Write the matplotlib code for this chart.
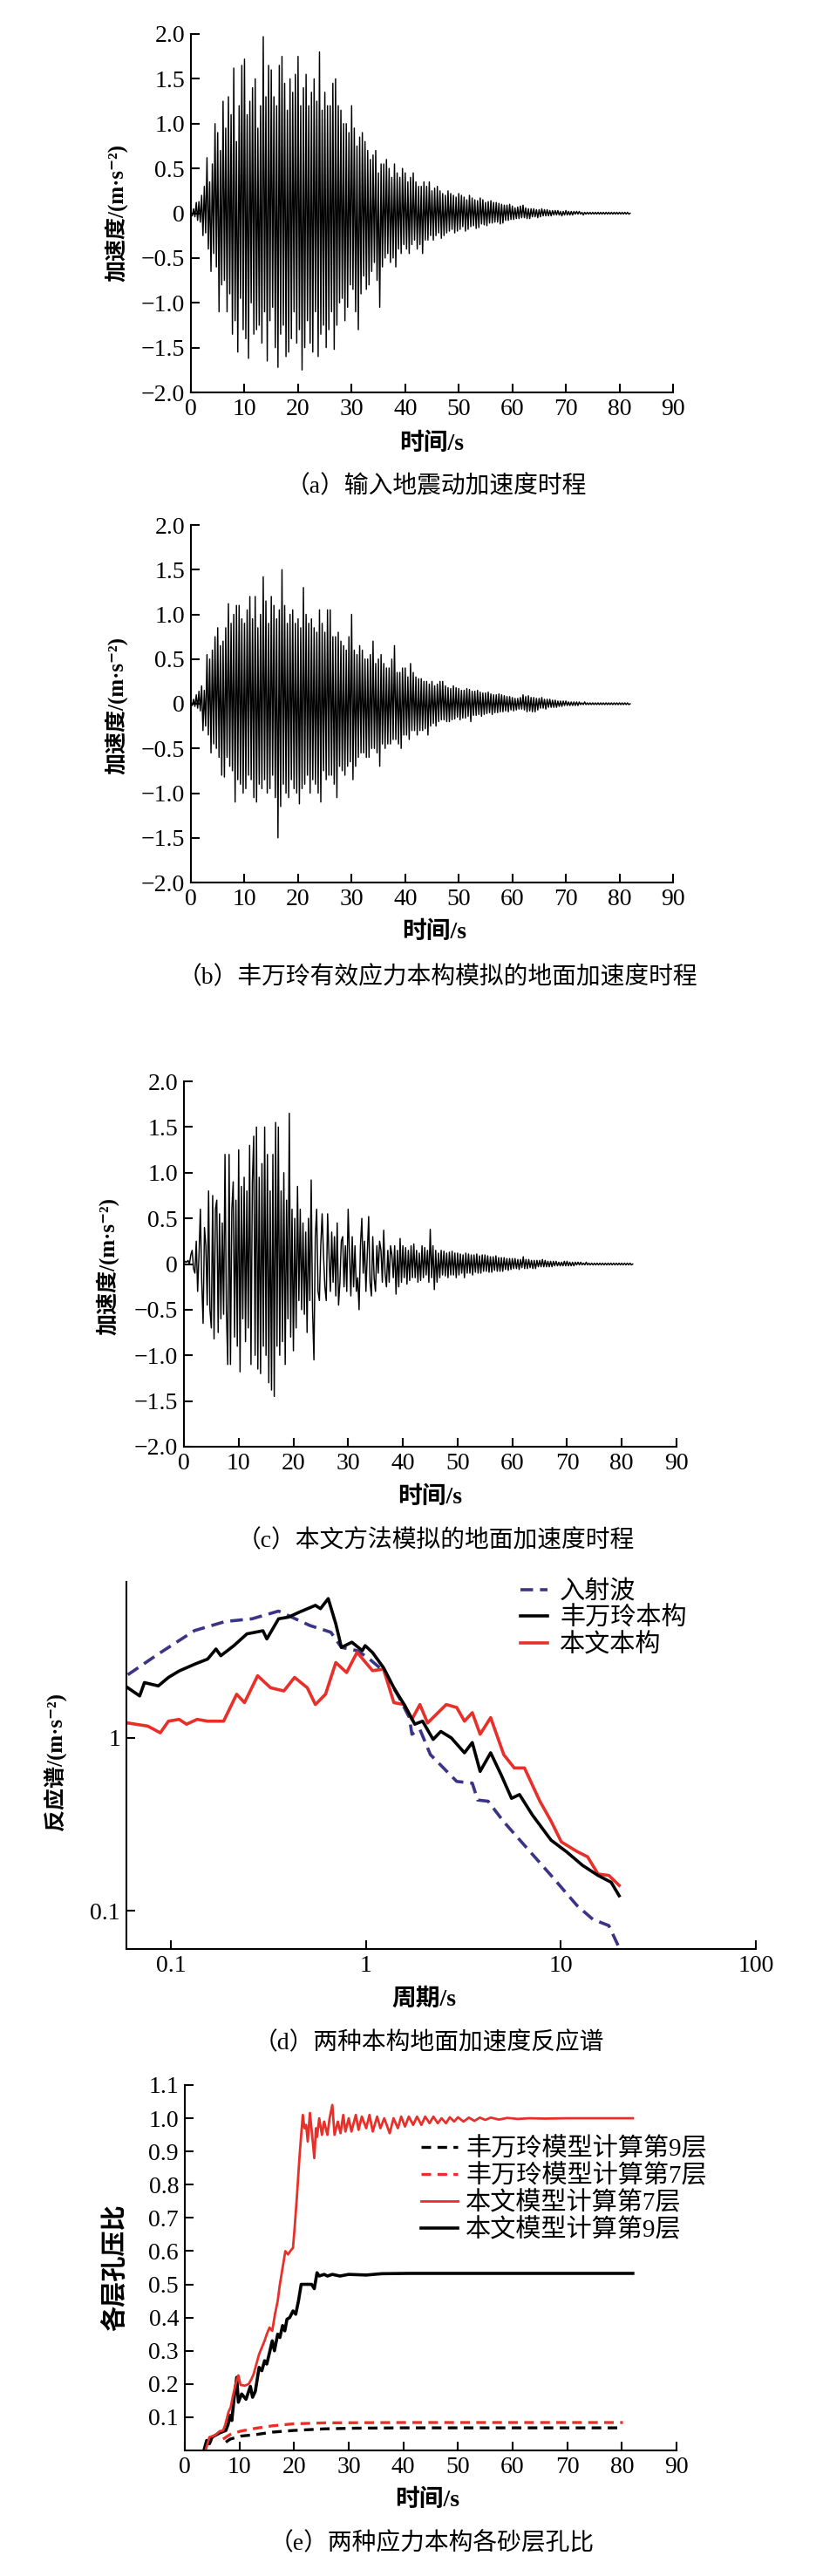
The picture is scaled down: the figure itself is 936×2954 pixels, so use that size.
import numpy as np
import matplotlib
matplotlib.use('Agg')
import matplotlib.pyplot as plt

plt.rcParams['font.family'] = ['Liberation Serif', 'Noto Sans CJK SC', 'DejaVu Serif']
plt.rcParams['axes.unicode_minus'] = True

# ---------------- data ----------------
DT = 0.25  # sampling step of the digitised records (s)

acc_input = [
    0.00, -0.03, 0.05, -0.04,
    0.12, -0.08, 0.13, -0.10,
    0.20, -0.25, 0.30, -0.22,
    0.62, -0.40, 0.35, -0.65,
    0.55, -0.45, 1.00, -0.60,
    0.90, -1.10, 0.70, -0.80,
    1.25, -0.75, 0.95, -1.10,
    1.30, -0.90, 1.10, -1.35,
    1.62, -1.20, 0.80, -1.55,
    1.20, -0.95, 1.65, -1.30,
    1.72, -1.40, 1.10, -1.62,
    1.25, -1.00, 1.40, -1.35,
    1.50, -1.30, 0.95, -1.25,
    1.20, -1.45, 1.97, -1.10,
    1.30, -1.65, 1.65, -1.20,
    1.60, -1.05, 1.30, -1.50,
    1.20, -1.72, 1.65, -1.35,
    1.75, -1.25, 1.45, -1.60,
    1.15, -1.55, 1.50, -1.40,
    1.35, -1.10, 1.55, -1.45,
    1.75, -1.30, 1.20, -1.75,
    1.40, -1.50, 1.55, -1.20,
    1.20, -1.45, 1.35, -1.55,
    1.50, -1.10, 1.25, -1.60,
    1.80, -1.35, 1.15, -1.25,
    1.35, -1.50, 1.20, -1.30,
    1.20, -1.10, 1.45, -1.52,
    1.50, -1.25, 1.20, -1.00,
    1.15, -0.95, 1.00, -1.20,
    1.00, -1.05, 0.90, -0.80,
    1.20, -0.85, 0.95, -1.10,
    0.75, -1.30, 0.85, -0.90,
    0.90, -0.70, 0.80, -0.85,
    0.70, -0.80, 0.60, -0.65,
    0.65, -0.55, 0.70, -0.75,
    0.45, -1.05, 0.55, -0.60,
    0.55, -0.50, 0.60, -0.45,
    0.50, -0.55, 0.40, -0.50,
    0.55, -0.60, 0.45, -0.40,
    0.40, -0.45, 0.50, -0.35,
    0.45, -0.40, 0.35, -0.45,
    0.40, -0.35, 0.45, -0.30,
    0.35, -0.40, 0.30, -0.35,
    0.30, -0.45, 0.35, -0.30,
    0.30, -0.30, 0.35, -0.25,
    0.25, -0.30, 0.28, -0.25,
    0.30, -0.22, 0.25, -0.28,
    0.22, -0.25, 0.20, -0.22,
    0.25, -0.20, 0.22, -0.18,
    0.20, -0.22, 0.18, -0.20,
    0.22, -0.18, 0.20, -0.15,
    0.18, -0.20, 0.15, -0.18,
    0.20, -0.15, 0.17, -0.14,
    0.15, -0.17, 0.14, -0.16,
    0.17, -0.12, 0.15, -0.13,
    0.12, -0.14, 0.13, -0.11,
    0.14, -0.11, 0.12, -0.10,
    0.12, -0.10, 0.11, -0.12,
    0.10, -0.11, 0.09, -0.08,
    0.09, -0.08, 0.10, -0.07,
    0.08, -0.07, 0.06, -0.06,
    0.07, -0.06, 0.08, -0.05,
    0.09, -0.05, 0.06, -0.06,
    0.05, -0.06, 0.05, -0.04,
    0.05, -0.04, 0.04, -0.05,
    0.04, -0.04, 0.05, -0.03,
    0.04, -0.03, 0.04, -0.03,
    0.03, -0.03, 0.03, -0.02,
    0.03, -0.02, 0.03, -0.02,
    0.02, -0.03, 0.02, -0.02,
    0.03, -0.02, 0.02, -0.02,
    0.02, -0.02, 0.02, -0.01,
    0.02, -0.01, 0.02, -0.01,
    0.01, -0.02, 0.01, -0.01,
    0.01, -0.01, 0.01, -0.01,
    0.01, -0.01, 0.01, -0.01,
    0.01, -0.01, 0.01, -0.01,
    0.01, -0.01, 0.01, -0.01,
    0.01, -0.01, 0.01, -0.01,
    0.01, -0.01, 0.01, -0.01,
    0.01, -0.01, 0.01, -0.01,
    0.01, -0.01, 0.01, -0.01,
    0.00,
]

acc_feng = [
    0.00, -0.02, 0.05, -0.03,
    0.10, -0.05, 0.14, -0.08,
    0.20, -0.30, 0.15, -0.25,
    0.55, -0.35, 0.50, -0.55,
    0.60, -0.45, 0.75, -0.50,
    0.85, -0.60, 0.65, -0.80,
    0.70, -0.82, 0.85, -0.60,
    1.12, -0.70, 0.90, -0.75,
    1.00, -1.10, 1.10, -0.85,
    1.10, -0.90, 0.95, -1.00,
    0.90, -0.95, 1.05, -0.80,
    1.20, -0.85, 0.95, -1.05,
    1.20, -1.10, 0.85, -0.90,
    1.00, -0.95, 1.42, -0.85,
    1.15, -1.00, 0.90, -0.95,
    1.20, -0.80, 1.10, -1.05,
    0.95, -1.50, 1.05, -1.15,
    1.50, -0.90, 1.10, -1.00,
    0.90, -1.05, 1.00, -0.85,
    1.05, -0.95, 0.90, -1.00,
    0.95, -1.12, 0.85, -0.95,
    1.30, -0.90, 1.00, -0.80,
    0.90, -1.00, 0.95, -0.85,
    0.85, -0.90, 0.80, -1.00,
    1.05, -1.10, 0.90, -0.75,
    0.80, -0.85, 1.05, -0.80,
    1.05, -0.80, 0.75, -0.90,
    0.75, -1.05, 0.80, -0.70,
    0.70, -0.75, 0.65, -0.80,
    0.60, -0.70, 0.75, -0.65,
    1.00, -0.85, 0.60, -0.70,
    0.55, -0.60, 0.65, -0.55,
    0.60, -0.55, 0.50, -0.60,
    0.50, -0.60, 0.55, -0.50,
    0.70, -0.50, 0.45, -0.55,
    0.50, -0.70, 0.55, -0.45,
    0.45, -0.50, 0.40, -0.45,
    0.40, -0.45, 0.50, -0.40,
    0.65, -0.40, 0.35, -0.45,
    0.35, -0.50, 0.40, -0.35,
    0.40, -0.35, 0.30, -0.40,
    0.45, -0.30, 0.35, -0.30,
    0.30, -0.35, 0.28, -0.30,
    0.28, -0.30, 0.25, -0.28,
    0.25, -0.35, 0.22, -0.25,
    0.25, -0.22, 0.20, -0.25,
    0.22, -0.20, 0.25, -0.18,
    0.25, -0.18, 0.20, -0.20,
    0.18, -0.20, 0.17, -0.18,
    0.20, -0.17, 0.18, -0.15,
    0.17, -0.18, 0.15, -0.16,
    0.15, -0.16, 0.17, -0.14,
    0.16, -0.20, 0.14, -0.13,
    0.14, -0.13, 0.15, -0.12,
    0.13, -0.14, 0.12, -0.12,
    0.12, -0.11, 0.13, -0.10,
    0.11, -0.12, 0.10, -0.10,
    0.10, -0.10, 0.11, -0.09,
    0.10, -0.09, 0.09, -0.08,
    0.08, -0.09, 0.08, -0.07,
    0.07, -0.08, 0.06, -0.07,
    0.06, -0.06, 0.07, -0.06,
    0.10, -0.07, 0.08, -0.09,
    0.09, -0.08, 0.07, -0.09,
    0.07, -0.09, 0.06, -0.07,
    0.06, -0.05, 0.07, -0.05,
    0.05, -0.06, 0.05, -0.04,
    0.05, -0.04, 0.04, -0.04,
    0.04, -0.04, 0.03, -0.03,
    0.03, -0.03, 0.03, -0.02,
    0.03, -0.02, 0.02, -0.02,
    0.02, -0.02, 0.02, -0.02,
    0.02, -0.02, 0.02, -0.01,
    0.01, -0.01, 0.02, -0.01,
    0.01, -0.01, 0.01, -0.01,
    0.01, -0.01, 0.01, -0.01,
    0.01, -0.01, 0.01, -0.01,
    0.01, -0.01, 0.01, -0.01,
    0.01, -0.01, 0.01, -0.01,
    0.01, -0.01, 0.01, -0.01,
    0.01, -0.01, 0.01, -0.01,
    0.01, -0.01, 0.01, -0.01,
    0.00,
]

acc_ours = [
    0.00, 0.03, 0.02, 0.04,
    0.00, 0.10, 0.15, -0.05,
    -0.10, 0.25, -0.30, 0.10,
    0.60, -0.20, -0.65, 0.40,
    0.20, -0.45, 0.80, -0.50,
    -0.70, 0.75, -0.82, 0.60,
    0.70, -0.75, 0.55, -0.60,
    0.45, -0.55, 1.20, -0.50,
    -1.10, 1.20, -1.10, 0.60,
    0.90, -0.80, 0.70, -0.90,
    1.25, -1.18, 0.85, -0.60,
    0.95, -0.85, 0.80, -0.70,
    1.30, -1.10, 0.90, 1.40,
    -1.00, 1.50, -1.15, 0.95,
    -1.20, 1.10, -0.90, 1.50,
    -1.00, 1.20, -1.30, 0.80,
    -1.38, 1.20, -1.45, 1.55,
    -0.90, 1.50, -1.00, 0.80,
    -0.85, 1.00, -1.10, 0.70,
    -0.60, 1.65, -0.80, 0.60,
    -0.95, 0.50, -0.70, 0.85,
    -0.40, 0.60, -0.50, 0.45,
    -0.55, 0.35, -0.75, 0.50,
    -0.40, 0.92, -0.50, -1.05,
    0.30, 0.60, -0.30, -0.40,
    0.20, 0.55, 0.10, -0.25,
    -0.40, 0.55, 0.10, -0.30,
    0.35, -0.20, 0.30, -0.35,
    0.45, -0.45, -0.20, 0.25,
    0.30, -0.25, 0.20, -0.30,
    0.60, 0.10, -0.35, 0.30,
    -0.25, 0.20, -0.30, -0.15,
    -0.50, 0.20, 0.50, -0.10,
    0.25, -0.30, 0.10, 0.52,
    -0.20, -0.35, 0.30, -0.15,
    -0.30, 0.20, -0.10, 0.25,
    0.15, -0.20, 0.37, -0.10,
    -0.25, 0.15, -0.20, 0.20,
    0.10, -0.15, 0.20, -0.33,
    0.15, -0.25, 0.28, -0.20,
    0.20, -0.15, 0.18, -0.22,
    0.15, -0.18, 0.20, -0.15,
    0.22, -0.15, 0.15, -0.20,
    0.12, -0.18, 0.20, -0.15,
    0.18, -0.12, 0.15, -0.20,
    0.38, -0.15, 0.20, -0.28,
    0.15, -0.20, 0.12, -0.15,
    0.15, -0.12, 0.14, -0.13,
    0.12, -0.15, 0.13, -0.12,
    0.14, -0.12, 0.12, -0.15,
    0.12, -0.12, 0.11, -0.10,
    0.10, -0.15, 0.12, -0.10,
    0.11, -0.10, 0.10, -0.12,
    0.10, -0.09, 0.11, -0.10,
    0.09, -0.10, 0.10, -0.08,
    0.10, -0.08, 0.09, -0.09,
    0.08, -0.09, 0.08, -0.07,
    0.09, -0.08, 0.07, -0.08,
    0.07, -0.08, 0.07, -0.06,
    0.06, -0.07, 0.06, -0.06,
    0.06, -0.05, 0.06, -0.05,
    0.05, -0.06, 0.05, -0.04,
    0.08, -0.05, 0.05, -0.05,
    0.05, -0.04, 0.04, -0.05,
    0.04, -0.05, 0.04, -0.03,
    0.04, -0.03, 0.05, -0.03,
    0.04, -0.03, 0.03, -0.03,
    0.03, -0.03, 0.03, -0.02,
    0.03, -0.02, 0.02, -0.02,
    0.02, -0.02, 0.03, -0.02,
    0.03, -0.02, 0.02, -0.02,
    0.02, -0.02, 0.02, -0.01,
    0.02, -0.01, 0.02, -0.01,
    0.01, -0.01, 0.02, -0.01,
    0.01, -0.01, 0.01, -0.01,
    0.01, -0.01, 0.01, -0.01,
    0.01, -0.01, 0.01, -0.01,
    0.01, -0.01, 0.01, -0.01,
    0.01, -0.01, 0.01, -0.01,
    0.01, -0.01, 0.01, -0.01,
    0.01, -0.01, 0.01, -0.01,
    0.01, -0.01, 0.01, -0.01,
    0.00,
]

# response spectra (period s, Sa m/s^2)
spec_incident = [(0.06, 2.32), (0.086, 3.06), (0.132, 4.18), (0.19, 4.72), (0.26, 4.89),
                 (0.356, 5.42), (0.516, 4.47), (0.66, 4.09), (0.748, 3.34), (0.90, 3.20),
                 (1.02, 2.92), (1.23, 2.44), (1.48, 1.71), (1.67, 1.31), (1.72, 1.05),
                 (1.89, 1.12), (2.14, 0.80), (2.92, 0.56), (3.51, 0.547), (3.74, 0.437),
                 (4.23, 0.43), (5.09, 0.327), (6.5, 0.239), (8.9, 0.16), (12.1, 0.107),
                 (14.6, 0.089), (17.6, 0.082), (19.9, 0.061)]
spec_feng = [(0.06, 1.95), (0.069, 1.75), (0.073, 2.09), (0.086, 2.00), (0.097, 2.24),
             (0.11, 2.44), (0.132, 2.67), (0.154, 2.86), (0.17, 3.27), (0.18, 2.99),
             (0.21, 3.42), (0.245, 4.00), (0.296, 4.17), (0.31, 3.74), (0.356, 4.89),
             (0.40, 5.00), (0.456, 5.35), (0.55, 5.85), (0.584, 5.60), (0.64, 6.40),
             (0.70, 4.57), (0.748, 3.34), (0.846, 3.58), (0.957, 3.20), (0.99, 3.42),
             (1.08, 3.12), (1.23, 2.55), (1.39, 1.95), (1.57, 1.56), (1.78, 1.20),
             (1.95, 1.25), (2.21, 0.98), (2.42, 1.09), (2.74, 1.00), (3.2, 0.82),
             (3.51, 0.94), (3.85, 0.64), (4.36, 0.82), (4.94, 0.61), (5.58, 0.447),
             (6.13, 0.47), (7.15, 0.357), (8.9, 0.256), (10.7, 0.219), (12.9, 0.183),
             (15.5, 0.16), (18.1, 0.146), (19.9, 0.122)]
spec_ours = [(0.06, 1.22), (0.076, 1.17), (0.088, 1.07), (0.097, 1.25), (0.11, 1.28),
             (0.12, 1.20), (0.136, 1.28), (0.154, 1.25), (0.186, 1.25), (0.217, 1.79),
             (0.238, 1.60), (0.278, 2.29), (0.324, 1.95), (0.379, 1.87), (0.43, 2.24),
             (0.50, 1.95), (0.55, 1.56), (0.62, 1.79), (0.70, 2.73), (0.795, 2.39),
             (0.90, 3.13), (1.08, 2.45), (1.23, 2.50), (1.39, 1.60), (1.57, 1.56),
             (1.72, 1.28), (1.89, 1.56), (2.07, 1.22), (2.58, 1.56), (2.92, 1.50),
             (3.2, 1.25), (3.51, 1.40), (3.85, 1.05), (4.36, 1.31), (5.09, 0.80),
             (5.76, 0.67), (6.5, 0.67), (7.8, 0.43), (8.9, 0.33), (10.05, 0.25),
             (12.1, 0.22), (13.7, 0.205), (15.5, 0.163), (17.6, 0.16), (19.9, 0.14)]

# pore pressure ratio (time s, ratio)
ppr_feng_l9 = [(7.5, 0.025), (8.3, 0.034), (10.2, 0.043), (13.1, 0.048), (16.0, 0.055),
               (19.8, 0.060), (25.6, 0.065), (31.3, 0.067), (40.0, 0.068), (80.2, 0.068)]
ppr_feng_l7 = [(7.0, 0.034), (8.3, 0.048), (10.2, 0.058), (13.1, 0.067), (16.0, 0.074),
               (19.8, 0.080), (25.6, 0.083), (40.0, 0.084), (80.2, 0.084)]
ppr_ours_l7 = [(3.8, 0.00), (4.5, 0.04), (5.5, 0.045), (6.4, 0.058), (7.0, 0.06), (7.4, 0.077),
               (8.0, 0.116), (8.4, 0.13), (8.8, 0.164), (9.3, 0.20), (9.8, 0.226), (10.2, 0.197),
               (11.0, 0.195), (11.7, 0.20), (12.2, 0.215), (12.6, 0.23), (13.1, 0.26), (13.6, 0.29),
               (14.1, 0.31), (14.6, 0.33), (15.0, 0.35), (15.5, 0.37), (16.0, 0.36), (16.5, 0.41),
               (17.0, 0.45), (17.4, 0.50), (17.9, 0.55), (18.4, 0.60), (18.9, 0.59), (19.3, 0.60),
               (19.8, 0.61), (20.1, 0.67), (20.5, 0.76), (21.0, 0.886), (21.3, 0.95), (21.6, 1.01),
               (21.9, 0.97), (22.2, 0.98), (22.5, 0.93), (22.9, 1.016), (23.3, 0.95), (23.7, 0.88),
               (24.0, 0.97), (24.2, 0.944), (24.6, 1.0), (25.1, 0.95), (25.5, 0.99), (26.1, 0.95),
               (26.5, 1.0), (27.0, 1.04), (27.4, 0.95), (28.0, 0.99), (28.5, 0.955), (29.0, 1.01),
               (29.4, 0.96), (30.0, 1.0), (30.5, 0.96), (31.3, 1.01), (31.8, 0.965), (32.4, 1.005),
               (33.2, 0.97), (33.8, 1.01), (34.4, 0.96), (35.2, 1.005), (35.8, 0.97), (36.5, 1.0),
               (37.5, 0.955), (38.2, 1.0), (39.0, 0.97), (39.6, 1.005), (40.3, 0.975), (41.0, 1.005),
               (41.8, 0.98), (42.5, 1.005), (43.3, 0.98), (44.0, 1.005), (44.8, 0.985), (45.5, 1.005),
               (46.3, 0.985), (47.0, 1.0), (47.8, 0.985), (48.5, 1.003), (49.3, 0.99), (50.0, 1.003),
               (51.0, 0.99), (52.0, 1.002), (53.0, 0.992), (54.0, 1.002), (55.0, 0.995), (56.0, 1.002),
               (57.5, 0.996), (59.0, 1.001), (61.0, 0.998), (63.0, 1.0), (66.0, 0.999), (70.0, 1.0),
               (75.0, 1.0), (82.0, 1.0)]
ppr_ours_l9 = [(3.5, 0.0), (4.0, 0.03), (4.5, 0.02), (5.0, 0.04), (6.4, 0.053), (7.5, 0.06),
               (7.9, 0.077), (8.3, 0.106), (8.6, 0.09), (9.0, 0.154), (9.5, 0.22), (9.8, 0.145),
               (10.4, 0.17), (11.2, 0.154), (12.0, 0.193), (12.4, 0.16), (12.9, 0.178), (13.6, 0.25),
               (14.1, 0.24), (14.6, 0.27), (15.0, 0.26), (15.5, 0.294), (16.0, 0.33), (16.4, 0.30),
               (17.0, 0.35), (17.4, 0.34), (17.9, 0.376), (18.3, 0.36), (18.7, 0.395), (19.2, 0.40),
               (19.8, 0.42), (20.3, 0.41), (20.8, 0.45), (21.3, 0.50), (22.2, 0.50), (23.2, 0.50),
               (23.7, 0.487), (24.2, 0.535), (24.6, 0.525), (25.5, 0.53), (26.1, 0.525), (27.0, 0.53),
               (28.4, 0.525), (30.0, 0.53), (33.2, 0.528), (36.0, 0.532), (40.9, 0.533), (50.0, 0.533),
               (82.0, 0.533)]

time_ticks = [0, 10, 20, 30, 40, 50, 60, 70, 80, 90]
acc_ticks = [-2.0, -1.5, -1.0, -0.5, 0, 0.5, 1.0, 1.5, 2.0]
acc_tick_labels = ['\u22122.0', '\u22121.5', '\u22121.0', '\u22120.5', '0', '0.5', '1.0', '1.5', '2.0']
period_ticks = [0.1, 1, 10, 100]
period_tick_labels = ['0.1', '1', '10', '100']
sa_ticks = [0.1, 1]
sa_tick_labels = ['0.1', '1']
ppr_ticks = [0.1, 0.2, 0.3, 0.4, 0.5, 0.6, 0.7, 0.8, 0.9, 1.0, 1.1]
ppr_tick_labels = ['0.1', '0.2', '0.3', '0.4', '0.5', '0.6', '0.7', '0.8', '0.9', '1.0', '1.1']

# ---------------- figure ----------------
W, H = 937, 2954
fig = plt.figure(figsize=(W / 100, H / 100), dpi=100)

def add_axes(l, r, t, b):
    return fig.add_axes([l / W, 1 - b / H, (r - l) / W, (b - t) / H])

def style(ax):
    for s in ['top', 'right']:
        ax.spines[s].set_visible(False)
    for s in ['left', 'bottom']:
        ax.spines[s].set_linewidth(1.5)
    ax.tick_params(which='major', direction='in', length=7, width=1.5, labelsize=20, pad=5)
    ax.tick_params(which='minor', length=0)

def ftext(x, y, s, size=20, rot=0, **kw):
    fig.text(x / W, 1 - y / H, s, fontsize=size, rotation=rot, ha='center', va='center', **kw)

def pairs(p):
    a = np.array(p, dtype=float)
    return a[:, 0], a[:, 1]

CAP = 20
LBW = 'bold'

# time-history panels
panels = [
    (acc_input, (219, 772, 39, 450), (495, 509), (133, 244), (500, 558), '（a）输入地震动加速度时程'),
    (acc_feng, (219, 772, 602, 1012), (498, 1069), (133, 809), (502, 1121), '（b）丰万玲有效应力本构模拟的地面加速度时程'),
    (acc_ours, (211, 776, 1240, 1659), (493, 1717), (123, 1452), (500, 1767), '（c）本文方法模拟的地面加速度时程'),
]
for acc, box, xl, yl, cap, captxt in panels:
    ax = add_axes(*box)
    t = np.arange(len(acc)) * DT
    ax.plot(t, acc, color='black', lw=1.05)
    ax.set_xlim(0, 90)
    ax.set_ylim(-2.0, 2.0)
    ax.set_xticks(time_ticks)
    ax.set_yticks(acc_ticks, acc_tick_labels)
    style(ax)
    ftext(*xl, '时间/s', size=20, fontweight=LBW)
    ftext(*yl, '加速度/(m·s⁻²)', size=18, rot=90, fontweight=LBW)
    ftext(*cap, captxt, size=CAP)

# response spectrum panel
ax = add_axes(145, 867, 1814, 2235)
navy = '#3b3486'
red = '#e8302a'
T1, S1 = pairs(spec_incident)
T2, S2 = pairs(spec_feng)
T3, S3 = pairs(spec_ours)
l1, = ax.plot(T1, S1, color=navy, lw=2.6, ls=(0, (4, 2.2)), label='入射波')
l3, = ax.plot(T3, S3, color=red, lw=2.6, label='本文本构')
l2, = ax.plot(T2, S2, color='black', lw=2.6, label='丰万玲本构')
ax.set_xscale('log')
ax.set_yscale('log')
ax.set_xlim(0.059, 100)
ax.set_ylim(0.06, 8)
ax.set_xticks(period_ticks, period_tick_labels)
ax.set_yticks(sa_ticks, sa_tick_labels)
style(ax)
ax.legend(handles=[l1, l2, l3], loc='upper left', bbox_to_anchor=(597 / W, 1 - 1812 / H),
          bbox_transform=fig.transFigure, frameon=False, fontsize=21, handlelength=1.05,
          handletextpad=0.5, labelspacing=0.12, borderpad=0, borderaxespad=0)
ftext(486, 2293, '周期/s', size=20, fontweight=LBW)
ftext(63, 2020, '反应谱/(m·s⁻²)', size=18, rot=90, fontweight=LBW)
ftext(492, 2343, '（d）两种本构地面加速度反应谱', size=CAP)

# pore pressure panel
ax = add_axes(212, 776, 2391, 2810)
ta, va = pairs(ppr_feng_l9)
tb, vb = pairs(ppr_feng_l7)
tc, vc = pairs(ppr_ours_l7)
td, vd = pairs(ppr_ours_l9)
h1, = ax.plot(ta, va, color='black', lw=2.4, ls=(0, (3.3, 2.2)), label='丰万玲模型计算第9层')
h2, = ax.plot(tb, vb, color=red, lw=2.4, ls=(0, (3.3, 2.2)), label='丰万玲模型计算第7层')
h4, = ax.plot(td, vd, color='black', lw=2.6, label='本文模型计算第9层')
h3, = ax.plot(tc, vc, color=red, lw=2.0, label='本文模型计算第7层')
ax.set_xlim(0, 90)
ax.set_ylim(0, 1.1)
ax.set_xticks(time_ticks)
ax.set_yticks(ppr_ticks, ppr_tick_labels)
style(ax)
ax.legend(handles=[h1, h2, h3, h4], loc='upper left', bbox_to_anchor=(483 / W, 1 - 2451 / H),
          bbox_transform=fig.transFigure, frameon=False, fontsize=21, handlelength=1.45,
          handletextpad=0.3, labelspacing=0.12, borderpad=0, borderaxespad=0)
ftext(490, 2867, '时间/s', size=20, fontweight=LBW)
ftext(132, 2600, '各层孔压比', size=21, rot=90, fontweight=LBW)
ftext(495, 2917, '（e）两种应力本构各砂层孔比', size=CAP)

fig.savefig('out.png', dpi=100)
